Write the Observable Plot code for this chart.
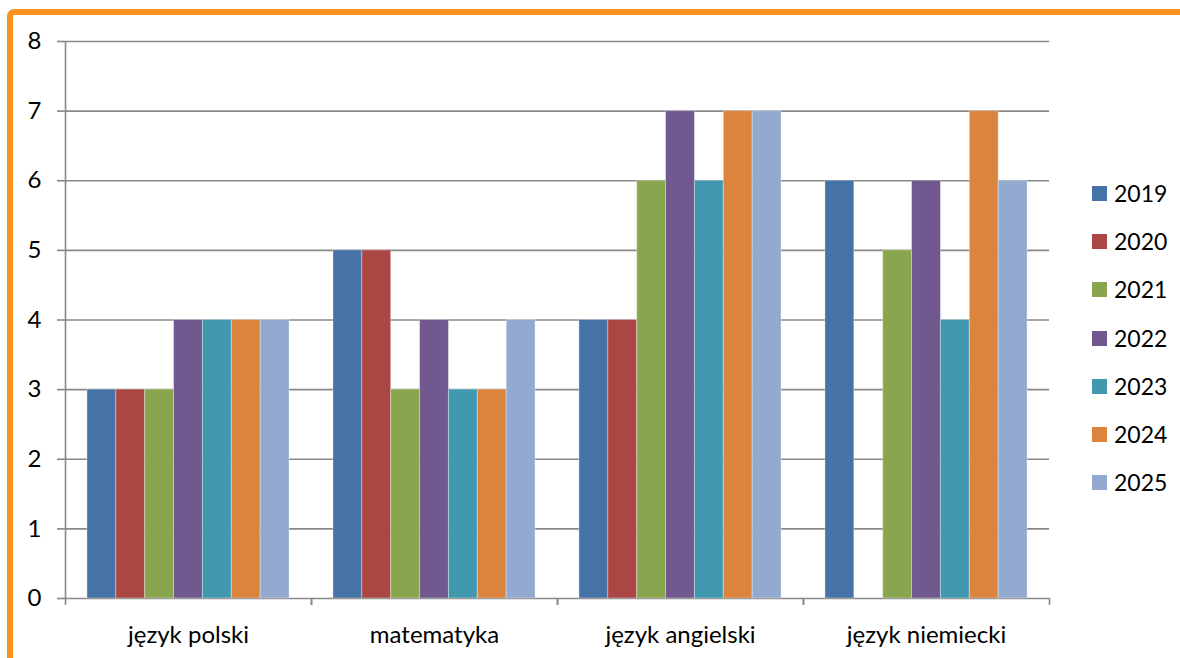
<!DOCTYPE html>
<html>
<head>
<meta charset="utf-8">
<script src="https://cdn.jsdelivr.net/npm/d3@7"></script>
<script src="https://cdn.jsdelivr.net/npm/@observablehq/plot@0.6"></script>
<style>
  body { margin: 0; background: #fff; font-family: Lato, "Noto Sans", sans-serif; }
  #wrap { position: relative; width: 1180px; height: 658px; overflow: hidden; background: #fff; }
  #border { position: absolute; left: 7px; top: 9px; width: 1300px; height: 900px;
            border-top: 6px solid #F7941E; border-left: 6px solid #F7941E; border-top-left-radius: 7px; box-sizing: border-box; }
  #chart { position: absolute; left: 0; top: 0; }
  #legend { position: absolute; left: 1092px; top: 169px; }
  .row { display: flex; align-items: center; height: 48.3px; }
  .sw { width: 15px; height: 15px; margin-right: 7px; }
  .lab { font-size: 23px; color: #000; line-height: 1; }
</style>
</head>
<body>
<div id="wrap">
  <div id="border"></div>
  <div id="chart"></div>
  <div id="legend"></div>
</div>
<script>
// ---- data ----
const subjects = ["język polski", "matematyka", "język angielski", "język niemiecki"];
const years = ["2019", "2020", "2021", "2022", "2023", "2024", "2025"];
const colors = ["#4572A7", "#AA4643", "#89A54E", "#71588F", "#4198AF", "#DB843D", "#93A9CF"];
const yTicks = [0, 1, 2, 3, 4, 5, 6, 7, 8];

const v2019 = [3, 5, 4, 6];
const v2020 = [3, 5, 4, 0];
const v2021 = [3, 3, 6, 5];
const v2022 = [4, 4, 7, 6];
const v2023 = [4, 3, 6, 4];
const v2024 = [4, 3, 7, 7];
const v2025 = [4, 4, 7, 6];
const series = [v2019, v2020, v2021, v2022, v2023, v2024, v2025];

const data = subjects.flatMap((s, i) =>
  years.map((y, j) => ({ subject: s, year: y, slot: j, value: series[j][i] })));

const pad = 0.76;
const xMin = -pad, xMax = years.length + pad;
const gray = "#888888";

const chart = Plot.plot({
  width: 1180,
  height: 658,
  marginLeft: 64,
  marginRight: 131,
  marginTop: 41,
  marginBottom: 60,
  style: { fontFamily: "Lato, 'Noto Sans', sans-serif", color: "#000", background: "transparent" },
  fx: { domain: subjects, padding: 0 },
  x: { type: "linear", domain: [xMin, xMax] },
  y: { domain: [0, 8] },
  color: { domain: years, range: colors },
  marks: [
    Plot.gridY(yTicks, { stroke: gray, strokeOpacity: 1, strokeWidth: 1.6 }),
    Plot.rectY(data, {
      fx: "subject", x1: "slot", x2: d => d.slot + 1, y: "value",
      fill: "year", stroke: "#ffffff", strokeOpacity: 0.35, strokeWidth: 1
    }),
    Plot.ruleX([{ s: subjects[0], x: xMin }], { fx: "s", x: "x", y1: 0, y2: 8, stroke: gray, strokeWidth: 1.6 }),
    Plot.axisY({ ticks: yTicks, tickSize: 8, tickPadding: 16, fontSize: 24, label: null, stroke: gray, strokeWidth: 1.6 }),
    Plot.axisX({ ticks: [xMin, xMax], tickSize: 7, tickFormat: () => "", label: null, stroke: gray, strokeWidth: 1.6 }),
    Plot.axisFx({ anchor: "bottom", tickSize: 0, tickPadding: 27, fontSize: 24, label: null })
  ]
});
document.getElementById("chart").appendChild(chart);

// legend
const legend = document.getElementById("legend");
years.forEach((y, j) => {
  const row = document.createElement("div");
  row.className = "row";
  const sw = document.createElement("div");
  sw.className = "sw";
  sw.style.background = colors[j];
  const lab = document.createElement("span");
  lab.className = "lab";
  lab.textContent = y;
  row.appendChild(sw);
  row.appendChild(lab);
  legend.appendChild(row);
});
</script>
</body>
</html>
